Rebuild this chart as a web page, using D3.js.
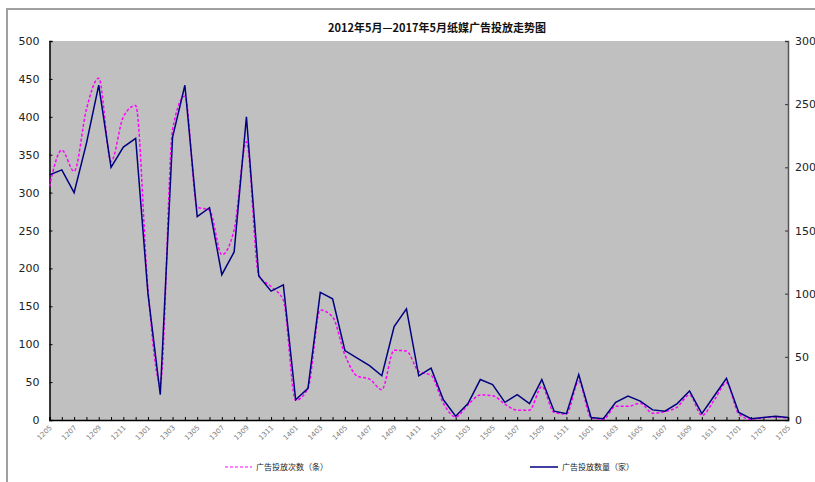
<!DOCTYPE html>
<html>
<head>
<meta charset="utf-8">
<script src="https://cdn.jsdelivr.net/npm/d3@7/dist/d3.min.js"></script>
<style>
  html, body { margin: 0; padding: 0; background: #fff; }
  svg { display: block; }
  text { font-family: "DejaVu Sans", "Noto Sans CJK SC", sans-serif; }
  .cjk { font-family: "Noto Sans CJK SC", sans-serif; }
</style>
</head>
<body>
<svg id="chart" width="815" height="482"></svg>
<script>
// Monthly periods, 2012-05 .. 2017-05 (YYMM)
const months = [
  "1205","1206","1207","1208","1209","1210","1211","1212",
  "1301","1302","1303","1304","1305","1306","1307","1308","1309","1310","1311","1312",
  "1401","1402","1403","1404","1405","1406","1407","1408","1409","1410","1411","1412",
  "1501","1502","1503","1504","1505","1506","1507","1508","1509","1510","1511","1512",
  "1601","1602","1603","1604","1605","1606","1607","1608","1609","1610","1611","1612",
  "1701","1702","1703","1704","1705"
];

// 广告投放次数（条） — left axis
const adCount = [
  308, 356, 328, 410, 451, 341, 400, 415,
  172, 48, 383, 427, 281, 277, 218, 251, 367, 191, 176, 158,
  26, 42, 145, 136, 86, 58, 54, 40, 92, 91, 64, 59,
  22, 4, 20, 33, 32, 21, 13, 13, 44, 10, 8, 51,
  3, 1, 18, 18, 22, 9, 11, 17, 33, 6, 26, 49,
  8, 1, 3, 4, 2
];

// 广告投放数量（家） — right axis
const advertisers = [
  194, 198, 180, 219, 265, 200, 216, 223,
  100, 20, 224, 265, 161, 168, 115, 133, 240, 114, 102, 107,
  16, 25, 101, 96, 55, 49, 43, 35, 74, 88, 35, 41,
  16, 3, 13, 32, 28, 14, 20, 13, 32, 7, 5, 36,
  2, 1, 14, 19, 15, 8, 7, 13, 23, 5, 19, 33,
  6, 1, 2, 3, 2
];

const leftTicks = [0, 50, 100, 150, 200, 250, 300, 350, 400, 450, 500];
const rightTicks = [0, 50, 100, 150, 200, 250, 300];

const titleText = "2012年5月—2017年5月纸媒广告投放走势图";
const legendCount = "广告投放次数（条）";
const legendAdv = "广告投放数量（家）";

const svg = d3.select("#chart");
const plot = { left: 49.5, right: 788, top: 41, bottom: 420 };

// outer frame
svg.append("rect")
  .attr("x", 7).attr("y", 9).attr("width", 830).attr("height", 500)
  .attr("fill", "#fff").attr("stroke", "#a0a0a0").attr("stroke-width", 2);

const x = d3.scalePoint().domain(months).range([plot.left, plot.right]);
const yL = d3.scaleLinear().domain([0, 500]).range([plot.bottom, plot.top]);
const yR = d3.scaleLinear().domain([0, 300]).range([plot.bottom, plot.top]);

// plot background
svg.append("rect")
  .attr("x", plot.left).attr("y", plot.top)
  .attr("width", plot.right - plot.left).attr("height", plot.bottom - plot.top)
  .attr("fill", "#c0c0c0");

// title
svg.append("text")
  .attr("class", "cjk")
  .attr("x", 437).attr("y", 32)
  .attr("text-anchor", "middle")
  .attr("font-size", 11).attr("font-weight", "bold").attr("fill", "#111")
  .text(titleText);

// left axis
const gL = svg.append("g").attr("transform", `translate(${plot.left},0)`)
  .call(d3.axisLeft(yL).tickValues(leftTicks).tickSize(-3).tickPadding(10));
gL.select(".domain").attr("stroke", "#000").attr("stroke-width", 1.5);
gL.selectAll(".tick line").attr("stroke", "#000");
gL.selectAll(".tick text").attr("font-size", 11).attr("fill", "#222");

// right axis
const gR = svg.append("g").attr("transform", `translate(${plot.right},0)`)
  .call(d3.axisRight(yR).tickValues(rightTicks).tickSize(-3).tickPadding(7));
gR.select(".domain").attr("stroke", "#555").attr("stroke-width", 1.5);
gR.selectAll(".tick line").attr("stroke", "#333");
gR.selectAll(".tick text").attr("font-size", 11).attr("fill", "#222");

// bottom axis: tick every month, label every second month
const gB = svg.append("g").attr("transform", `translate(0,${plot.bottom})`)
  .call(d3.axisBottom(x).tickSize(-3).tickFormat(""));
gB.select(".domain").attr("stroke", "#000").attr("stroke-width", 1.5);
gB.selectAll(".tick line").attr("stroke", "#000");

svg.append("g").selectAll("text")
  .data(months.filter((m, i) => i % 2 === 0))
  .join("text")
  .attr("transform", d => `translate(${x(d) + 3},${plot.bottom + 8}) rotate(-45)`)
  .attr("text-anchor", "end")
  .attr("font-size", 7)
  .attr("fill", "#808080")
  .text(d => d);

// series lines
const lineCount = d3.line()
  .x((d, i) => x(months[i]))
  .y(d => yL(d))
  .curve(d3.curveMonotoneX);
const lineAdv = d3.line()
  .x((d, i) => x(months[i]))
  .y(d => yR(d));

svg.append("path")
  .datum(adCount)
  .attr("d", lineCount)
  .attr("fill", "none")
  .attr("stroke", "#ff00ff")
  .attr("stroke-width", 1.5)
  .attr("stroke-dasharray", "3,2");

svg.append("path")
  .datum(advertisers)
  .attr("d", lineAdv)
  .attr("fill", "none")
  .attr("stroke", "#000080")
  .attr("stroke-width", 1.5)
  .attr("stroke-linejoin", "miter");

// legend
const legend = svg.append("g");
legend.append("line")
  .attr("x1", 225).attr("x2", 252).attr("y1", 467).attr("y2", 467)
  .attr("stroke", "#ff00ff").attr("stroke-width", 1.2).attr("stroke-dasharray", "3,2");
legend.append("text").attr("class", "cjk")
  .attr("x", 256).attr("y", 470).attr("font-size", 8).attr("fill", "#222")
  .text(legendCount);
legend.append("line")
  .attr("x1", 530).attr("x2", 558).attr("y1", 467).attr("y2", 467)
  .attr("stroke", "#000080").attr("stroke-width", 1.5);
legend.append("text").attr("class", "cjk")
  .attr("x", 562).attr("y", 470).attr("font-size", 8).attr("fill", "#222")
  .text(legendAdv);
</script>
</body>
</html>
